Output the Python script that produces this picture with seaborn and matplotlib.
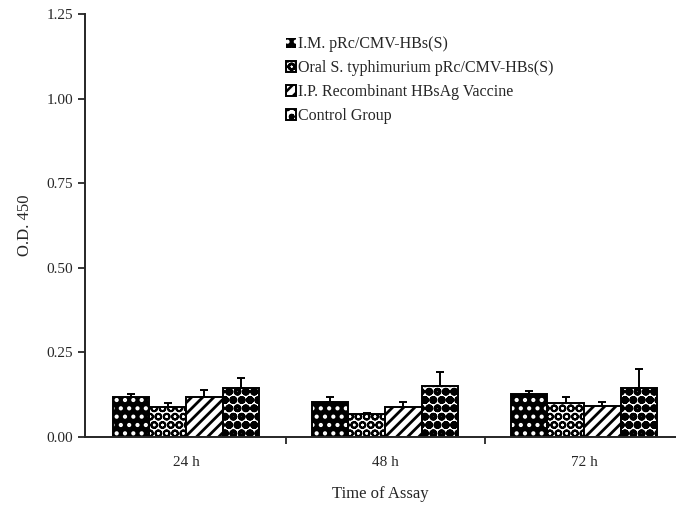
import pandas as pd
import matplotlib
matplotlib.use("Agg")
import matplotlib.pyplot as plt
from matplotlib.patches import Patch
import seaborn as sns

# values
times = ["24 h", "48 h", "72 h"]
groups = ["I.M. pRc/CMV-HBs(S)",
          "Oral S. typhimurium pRc/CMV-HBs(S)",
          "I.P. Recombinant HBsAg Vaccine",
          "Control Group"]
im_od = [0.118, 0.104, 0.127]
oral_od = [0.089, 0.068, 0.100]
ip_od = [0.118, 0.089, 0.092]
ctrl_od = [0.145, 0.151, 0.145]
im_err = [0.010, 0.014, 0.009]
oral_err = [0.011, 0.004, 0.018]
ip_err = [0.022, 0.015, 0.012]
ctrl_err = [0.030, 0.042, 0.055]

od = [im_od, oral_od, ip_od, ctrl_od]
err = [im_err, oral_err, ip_err, ctrl_err]

rows = []
for g, vals in zip(groups, od):
    for t, v in zip(times, vals):
        rows.append({"Time": t, "Group": g, "OD": v})
df = pd.DataFrame(rows)

sns.set_style("ticks")
plt.rcParams["font.family"] = ["Liberation Serif", "DejaVu Serif"]
plt.rcParams["hatch.linewidth"] = 1.8

fig = plt.figure(figsize=(6.76, 5.08), dpi=100)
ax = fig.add_axes([0.1257, 0.140, 0.8743, 0.832])

sns.barplot(data=df, x="Time", y="OD", hue="Group", hue_order=groups,
            order=times, width=0.735, gap=0, errorbar=None, legend=False, ax=ax)

# (face, hatch colour, hatch, hatch width)
styles = [
    ("black", "white", "..", 1.8),
    ("white", "black", "OO", 1.4),
    ("white", "black", "///", 2.0),
    ("white", "black", "oo", 3.2),
]
per_patch_hw = hasattr(Patch, "set_hatch_linewidth")
for cont, (fc, hc, hatch, hw), e in zip(ax.containers, styles, err):
    for bar, ev in zip(cont, e):
        bar.set_facecolor(fc)
        bar.set_edgecolor(hc)
        bar.set_hatch(hatch)
        if per_patch_hw:
            bar.set_hatch_linewidth(hw)
        bar.set_linewidth(0 if hc == "white" else 1.4)
        xc = bar.get_x() + bar.get_width() / 2
        ax.errorbar(xc, bar.get_height(), yerr=[[0], [ev]], color="black",
                    capsize=3, elinewidth=1.4, capthick=1.4, zorder=1)
        if hc == "white":
            ax.add_patch(plt.Rectangle((bar.get_x(), 0), bar.get_width(),
                                       bar.get_height(), fill=False,
                                       edgecolor="black", lw=1.4, zorder=2))

ax.set_ylim(0, 1.25)
ax.set_yticks([0, 0.25, 0.5, 0.75, 1.0, 1.25])
ax.set_yticklabels(["0.00", "0.25", "0.50", "0.75", "1.00", "1.25"])
ax.set_xlim(-0.508, 2.462)
ax.set_xticks([0.5, 1.5], minor=True)
ax.tick_params(axis="x", which="major", length=0, pad=14, labelsize=11)
ax.tick_params(axis="x", which="minor", length=5, width=1.3, direction="out")
ax.tick_params(axis="y", length=5, width=1.3, labelsize=11)
for s in ["top", "right"]:
    ax.spines[s].set_visible(False)
ax.spines["left"].set_linewidth(1.4)
ax.spines["bottom"].set_linewidth(1.4)

ax.set_xlabel("Time of Assay", fontsize=12, labelpad=12)
ax.set_ylabel("O.D. 450", fontsize=12, labelpad=10)

handles = [cont[0] for cont in ax.containers[:4]]
ax.legend(handles, groups, loc="upper left", bbox_to_anchor=(0.34, 0.948),
          frameon=False, fontsize=11.5, handlelength=0.6, handleheight=0.6,
          handletextpad=0.15, labelspacing=0.5, borderpad=0, borderaxespad=0)

fig.savefig("out.png", dpi=100)
